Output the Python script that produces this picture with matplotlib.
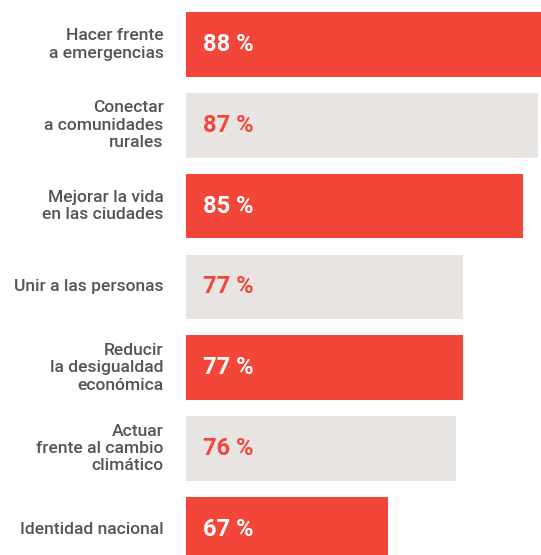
import matplotlib.pyplot as plt
from matplotlib.transforms import blended_transform_factory

# Data
categories = [
    "Hacer frente\na emergencias",
    "Conectar\na comunidades\nrurales",
    "Mejorar la vida\nen las ciudades",
    "Unir a las personas",
    "Reducir\nla desigualdad\neconómica",
    "Actuar\nfrente al cambio\nclimático",
    "Identidad nacional",
]
values = [88, 87, 85, 77, 77, 76, 67]
value_labels = ["88 %", "87 %", "85 %", "77 %", "77 %", "76 %", "67 %"]

RED = "#F3463A"
GRAY = "#E8E4E1"
TEXT = "#555555"

plt.rcParams["font.family"] = ["Roboto", "DejaVu Sans"]

W, H = 541, 555
fig = plt.figure(figsize=(W / 100, H / 100), dpi=100)
left = 185.5 / W
ax = fig.add_axes([left, 0, 1 - left, 1])

base = 40
ypos = list(range(len(values)))
bar_colors = [RED if i % 2 == 0 else GRAY for i in ypos]
ax.barh(ypos, [v - base for v in values], left=base, height=0.8, color=bar_colors, linewidth=0)

ax.set_xlim(base, 87.4)
ax.set_ylim(6.318, -0.551)
ax.axis("off")

trans = blended_transform_factory(fig.transFigure, ax.transData)
for i, (cat, lab) in enumerate(zip(categories, value_labels)):
    ax.text(163.5 / W, i, cat, transform=trans, ha="right", va="center",
            fontsize=12.6, color=TEXT, fontweight="medium", linespacing=1.2)
    ax.text(base + 2.3, i, lab, ha="left", va="center", fontsize=17,
            fontweight="bold", color="white" if i % 2 == 0 else RED)

fig.savefig("out.png", dpi=100)
